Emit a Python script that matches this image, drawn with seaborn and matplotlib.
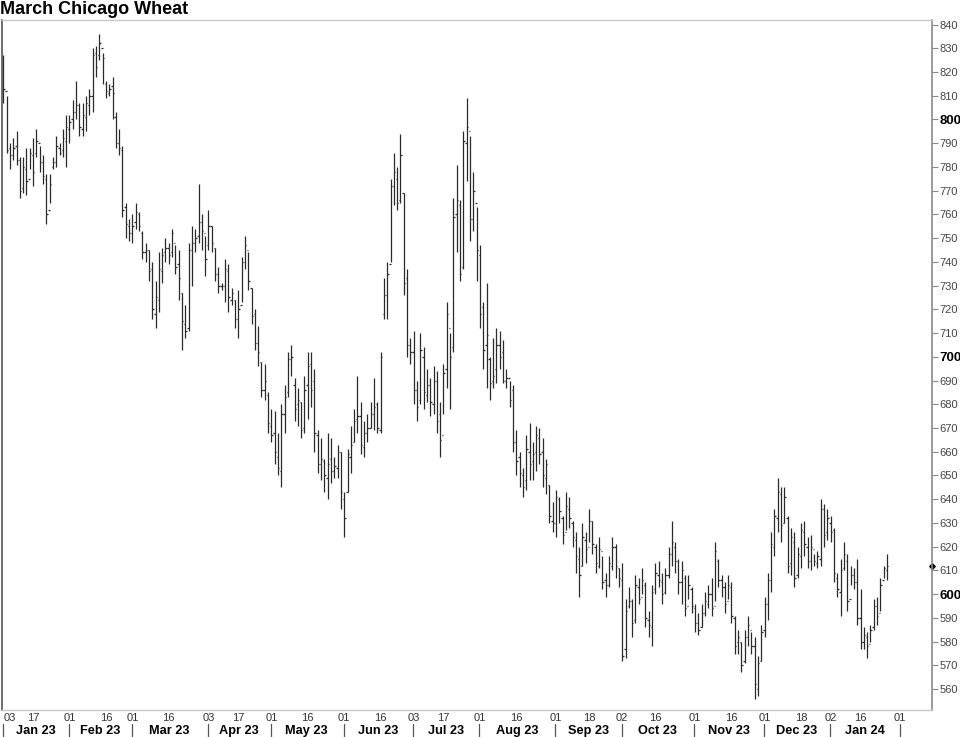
import numpy as np
import pandas as pd
import matplotlib
matplotlib.use("Agg")
import matplotlib.pyplot as plt
import matplotlib.transforms as mtransforms
import seaborn as sns

# ---------------- data ----------------
highs = [827, 810, 790, 792, 795, 784, 784, 788, 788, 792, 796, 789, 785, 777, 777, 784, 793, 790, 796, 802,
         802, 808, 816, 807, 807, 810, 813, 830, 831, 836, 828, 816, 815, 818, 803, 796, 789, 765, 758, 760,
         765, 761, 753, 748, 745, 740, 732, 744, 746, 750, 748, 754, 747, 745, 727, 722, 748, 755, 754, 773,
         760, 751, 762, 755, 746, 738, 731, 741, 739, 729, 724, 728, 742, 751, 744, 729, 720, 713, 698, 697,
         685, 678, 677, 668, 680, 688, 702, 705, 691, 687, 681, 692, 702, 702, 695, 669, 666, 657, 668, 666,
         658, 663, 660, 643, 661, 671, 678, 692, 681, 673, 676, 681, 691, 681, 702, 733, 740, 775, 786, 780,
         794, 769, 737, 708, 711, 690, 710, 704, 695, 691, 696, 694, 681, 697, 723, 710, 767, 781, 766, 795,
         809, 793, 778, 763, 747, 723, 731, 700, 708, 712, 711, 707, 695, 690, 688, 669, 660, 653, 667, 672,
         664, 671, 670, 666, 657, 646, 639, 644, 641, 633, 643, 641, 631, 626, 620, 630, 626, 636, 631, 621,
         624, 616, 609, 616, 624, 621, 611, 613, 598, 603, 598, 608, 607, 611, 605, 593, 604, 613, 614, 609,
         611, 620, 631, 622, 615, 614, 608, 608, 603, 596, 592, 596, 601, 604, 607, 622, 615, 608, 605, 608,
         605, 591, 585, 580, 585, 591, 584, 582, 574, 587, 599, 609, 626, 636, 649, 645, 645, 633, 628, 626,
         620, 630, 631, 624, 625, 617, 618, 640, 638, 636, 633, 628, 609, 615, 622, 617, 612, 611, 615, 602,
         586, 584, 587, 598, 599, 607, 612, 617]
lows = [807, 786, 779, 783, 781, 767, 769, 768, 779, 772, 784, 778, 773, 756, 765, 779, 780, 785, 784, 780,
        790, 796, 800, 793, 793, 795, 802, 803, 818, 825, 815, 809, 810, 800, 788, 785, 759, 750, 749, 748,
        754, 753, 741, 740, 732, 716, 712, 719, 731, 740, 739, 742, 735, 724, 703, 708, 711, 730, 744, 748,
        745, 734, 745, 744, 732, 727, 728, 723, 719, 722, 712, 708, 723, 737, 728, 714, 703, 696, 683, 682,
        668, 664, 655, 650, 645, 668, 683, 692, 673, 671, 666, 668, 674, 679, 660, 651, 648, 643, 640, 647,
        649, 649, 636, 624, 643, 651, 664, 668, 659, 658, 664, 670, 669, 668, 668, 716, 716, 740, 764, 762,
        765, 726, 700, 697, 680, 673, 680, 678, 681, 675, 676, 668, 658, 676, 687, 678, 702, 744, 732, 737,
        774, 749, 753, 732, 712, 695, 687, 682, 687, 689, 695, 689, 687, 679, 660, 650, 645, 641, 644, 648,
        648, 652, 655, 645, 642, 630, 626, 624, 630, 621, 627, 628, 620, 609, 599, 612, 613, 622, 617, 609,
        611, 602, 599, 603, 610, 607, 603, 572, 573, 594, 582, 588, 596, 600, 586, 582, 578, 600, 603, 596,
        600, 607, 612, 609, 600, 596, 591, 598, 592, 584, 583, 586, 591, 594, 591, 597, 603, 599, 592, 598,
        588, 575, 575, 567, 571, 578, 575, 556, 557, 572, 582, 589, 601, 616, 626, 622, 630, 609, 608, 603,
        607, 611, 616, 611, 610, 612, 611, 612, 620, 623, 622, 605, 599, 591, 610, 593, 604, 602, 587, 577,
        577, 573, 580, 585, 587, 593, 607, 606]
opens = [822, 812, 788, 785, 789, 783, 771, 779, 775, 785, 786, 790, 782, 775, 762, 780, 782, 788, 787, 791,
         796, 800, 803, 806, 796, 801, 806, 810, 828, 827, 830, 815, 811, 814, 801, 790, 787, 763, 755, 752,
         757, 760, 752, 744, 745, 737, 718, 724, 736, 744, 746, 744, 748, 739, 727, 714, 712, 745, 748, 751,
         757, 752, 747, 755, 746, 735, 730, 730, 736, 724, 724, 716, 722, 740, 745, 729, 718, 706, 698, 686,
         684, 671, 668, 658, 652, 676, 685, 699, 688, 680, 681, 670, 688, 697, 690, 667, 655, 656, 649, 657,
         652, 653, 660, 640, 643, 658, 664, 674, 675, 662, 668, 670, 676, 680, 669, 718, 726, 739, 772, 775,
         766, 769, 733, 705, 702, 686, 682, 700, 684, 688, 680, 690, 676, 667, 695, 712, 704, 760, 764, 738,
         790, 795, 758, 765, 743, 721, 705, 699, 690, 695, 705, 702, 690, 691, 686, 664, 658, 650, 648, 660,
         656, 660, 666, 660, 649, 646, 631, 630, 640, 632, 626, 636, 630, 623, 615, 612, 623, 620, 631, 620,
         612, 618, 606, 604, 612, 620, 611, 606, 577, 595, 597, 589, 603, 599, 604, 589, 586, 602, 608, 605,
         601, 608, 617, 620, 614, 605, 607, 595, 602, 594, 588, 586, 592, 596, 600, 595, 614, 606, 603, 597,
         603, 590, 580, 580, 572, 582, 585, 578, 560, 572, 585, 596, 606, 620, 632, 642, 630, 632, 613, 622,
         608, 616, 626, 620, 614, 619, 613, 615, 636, 626, 630, 627, 607, 601, 611, 614, 598, 608, 605, 590,
         580, 582, 579, 586, 595, 592, 606, 610]
closes = [813, 787, 785, 788, 783, 770, 780, 774, 786, 778, 791, 782, 776, 760, 773, 782, 789, 786, 792, 797,
          799, 803, 806, 797, 802, 807, 810, 827, 822, 832, 826, 812, 813, 811, 790, 788, 762, 756, 752, 755,
          761, 755, 744, 745, 736, 720, 725, 737, 743, 746, 743, 752, 738, 733, 715, 711, 745, 748, 750, 757,
          753, 741, 755, 748, 735, 730, 730, 737, 725, 727, 716, 720, 740, 747, 732, 717, 706, 702, 686, 690,
          672, 667, 660, 653, 676, 683, 699, 700, 678, 682, 669, 686, 696, 686, 668, 655, 657, 650, 655, 652,
          654, 660, 643, 632, 659, 663, 673, 675, 663, 668, 670, 676, 679, 670, 700, 726, 735, 772, 778, 765,
          785, 731, 705, 702, 686, 679, 703, 685, 688, 681, 690, 673, 665, 693, 718, 700, 759, 766, 735, 791,
          797, 758, 770, 745, 718, 703, 709, 689, 692, 705, 700, 690, 691, 682, 664, 656, 651, 645, 661, 655,
          659, 667, 659, 650, 655, 633, 630, 641, 635, 625, 637, 632, 624, 616, 608, 624, 619, 631, 621, 613,
          619, 605, 604, 613, 620, 612, 607, 574, 593, 597, 588, 604, 598, 606, 590, 587, 601, 609, 606, 600,
          608, 617, 622, 614, 605, 610, 594, 604, 595, 588, 585, 592, 597, 600, 594, 618, 606, 603, 596, 604,
          591, 578, 582, 570, 582, 587, 578, 562, 571, 584, 596, 606, 621, 633, 643, 629, 641, 612, 624, 607,
          617, 627, 621, 614, 620, 614, 616, 636, 625, 632, 626, 609, 602, 610, 617, 597, 608, 605, 590, 580,
          583, 578, 585, 595, 591, 604, 611, 612]

holidays = ["2023-01-16", "2023-02-20", "2023-04-07", "2023-05-29", "2023-06-19", "2023-07-04",
            "2023-09-04", "2023-11-23", "2023-12-25", "2024-01-01", "2024-01-15", "2024-02-19"]
tick_dates = ["2023-01-03", "2023-01-17", "2023-02-01", "2023-02-16", "2023-03-01", "2023-03-16",
              "2023-04-03", "2023-04-17", "2023-05-01", "2023-05-16", "2023-06-01", "2023-06-16",
              "2023-07-03", "2023-07-17", "2023-08-01", "2023-08-16", "2023-09-01", "2023-09-18",
              "2023-10-02", "2023-10-16", "2023-11-01", "2023-11-16", "2023-12-01", "2023-12-18",
              "2024-01-02", "2024-01-16", "2024-02-01"]
month_labels = ["Jan 23", "Feb 23", "Mar 23", "Apr 23", "May 23", "Jun 23", "Jul 23",
                "Aug 23", "Sep 23", "Oct 23", "Nov 23", "Dec 23", "Jan 24"]
y_ticks = list(range(560, 841, 10))
title = "March Chicago Wheat"

# ---------------- build trading calendar ----------------
cal = pd.bdate_range("2023-01-03", "2024-02-29", freq="C", holidays=holidays)
n = len(highs)
df = pd.DataFrame({"x": np.arange(n), "date": cal[:n], "open": opens, "high": highs,
                   "low": lows, "close": closes})
pos = {d: i for i, d in enumerate(cal)}

# ---------------- styling ----------------
sns.set_theme(style="white")
plt.rcParams["font.family"] = ["Liberation Sans", "DejaVu Sans"]

W, H = 960, 737
fig = plt.figure(figsize=(W / 100, H / 100), dpi=100)
ax = fig.add_axes([2 / W, 1 - 710 / H, (932 - 2) / W, (710 - 20) / H])

bar_color = "#2a2a2a"
ax.vlines(df["x"], df["low"], df["high"], color=bar_color, lw=0.9)
ax.hlines(df["open"], df["x"] - 0.4, df["x"], color=bar_color, lw=0.9)
ax.hlines(df["close"], df["x"], df["x"] + 0.4, color=bar_color, lw=0.9)

ax.set_xlim(-0.39, 280.6)
ax.set_ylim(551.2, 841.9)

# last price marker on right axis
ax.plot([1.0], [closes[-1]], marker="D", ms=2.8, color="black",
        transform=mtransforms.blended_transform_factory(ax.transAxes, ax.transData), clip_on=False)

# y axis on the right
ax.yaxis.tick_right()
ax.set_yticks(y_ticks)
ax.set_yticklabels([str(v) for v in y_ticks])
ax.tick_params(axis="y", which="major", direction="out", length=4, width=0.8, color="#888888",
               pad=1.5, labelsize=8, labelcolor="#444444", right=True, left=False)
for lab, v in zip(ax.get_yticklabels(), y_ticks):
    if v % 100 == 0:
        lab.set_fontweight("bold")
        lab.set_color("black")
        lab.set_fontsize(9.5)

ax.set_xticks([])
ax.set_xlabel("")
ax.set_ylabel("")

for side, col, lw in [("left", "#555555", 1.2), ("right", "#8a8a8a", 1.2),
                      ("top", "#c8c8cc", 1.0), ("bottom", "#c8c8cc", 1.0)]:
    ax.spines[side].set_visible(True)
    ax.spines[side].set_color(col)
    ax.spines[side].set_linewidth(lw)

# x axis labels (day numbers & months)
trans = mtransforms.blended_transform_factory(ax.transData, fig.transFigure)
for i, d in enumerate(tick_dates):
    xi = pos[pd.Timestamp(d)]
    lab = pd.Timestamp(d).strftime("%d")
    if i == 0:
        ax.text(xi + 0.2, 1 - 718 / H, lab, transform=trans, ha="left", va="center",
                fontsize=8, color="#333333", clip_on=False)
    else:
        ax.text(xi, 1 - 718 / H, lab, transform=trans, ha="center", va="center",
                fontsize=8, color="#333333", clip_on=False)

# month starts: first trading day of each month, from Feb 2023 to Feb 2024
month_start_dates = pd.date_range("2023-02-01", "2024-02-01", freq="MS")
ms_idx = [0]
for md in month_start_dates:
    ms_idx.append(int(np.searchsorted(cal.values, np.datetime64(md))))
for k, lab in enumerate(month_labels):
    a, b = ms_idx[k], ms_idx[k + 1]
    ax.text((a + b) / 2 - 0.3, 1 - 731 / H, lab, transform=trans, ha="center", va="center",
            fontsize=9.2, fontweight="bold", color="black", clip_on=False)
for s in ms_idx:
    ax.plot([s - 0.2, s - 0.2], [0, 1 - 724 / H], transform=trans, color="#555555",
            lw=0.9, clip_on=False)

fig.text(0.5 / W, 1 - 0.5 / H, title, ha="left", va="top", fontsize=13,
         fontweight="bold", color="black")

fig.savefig("out.png", dpi=100)
